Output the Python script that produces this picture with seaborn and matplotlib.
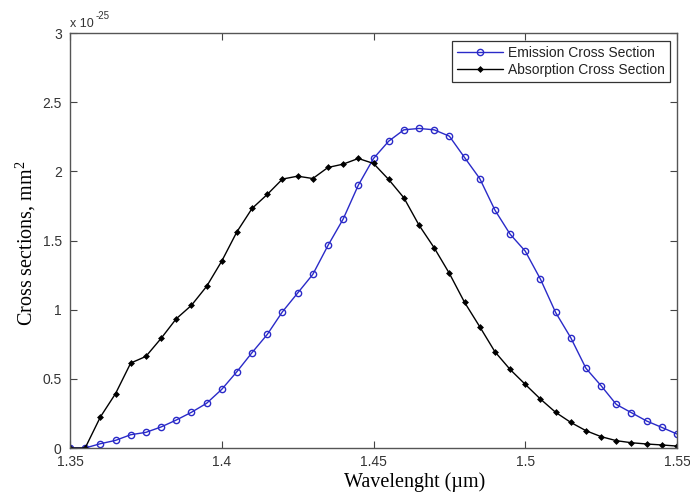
import numpy as np
import pandas as pd
import matplotlib
matplotlib.use("Agg")
import matplotlib.pyplot as plt
import seaborn as sns

wavelength = [1.35 + 0.005 * i for i in range(41)]
emission = [0, 0, 0.031, 0.055, 0.096, 0.113, 0.152, 0.202, 0.258, 0.323,
            0.424, 0.552, 0.69, 0.821, 0.985, 1.12, 1.255, 1.464, 1.655, 1.90,
            2.093, 2.218, 2.30, 2.31, 2.30, 2.254, 2.10, 1.948, 1.72, 1.546,
            1.423, 1.221, 0.980, 0.797, 0.576, 0.450, 0.315, 0.255, 0.195, 0.149,
            0.101]
absorption = [0, 0, 0.224, 0.393, 0.614, 0.662, 0.792, 0.934, 1.031, 1.168,
              1.351, 1.563, 1.732, 1.833, 1.944, 1.965, 1.948, 2.028, 2.052, 2.093,
              2.057, 1.941, 1.809, 1.611, 1.447, 1.262, 1.053, 0.877, 0.696, 0.568,
              0.460, 0.354, 0.258, 0.185, 0.125, 0.082, 0.053, 0.038, 0.029, 0.022,
              0.014]
xticks = [1.35, 1.4, 1.45, 1.5, 1.55]
xtick_labels = ["1.35", "1.4", "1.45", "1.5", "1.55"]
yticks = [0, 0.5, 1, 1.5, 2, 2.5, 3]
ytick_labels = ["0", "0.5", "1", "1.5", "2", "2.5", "3"]

df = pd.DataFrame({"wl": wavelength, "em": emission, "ab": absorption})

sns.set_style("white")
plt.rcParams["font.family"] = ["Liberation Sans", "DejaVu Sans"]
plt.rcParams["mathtext.fontset"] = "custom"
plt.rcParams["mathtext.rm"] = "Liberation Serif"
plt.rcParams["mathtext.default"] = "regular"

fig = plt.figure(figsize=(6.9, 4.94), dpi=100)
W, H = 690, 494
L, R, T, B = 70, 677, 33, 448
ax = fig.add_axes([L / W, 1 - B / H, (R - L) / W, (B - T) / H])

blue = "#2a2ac8"
sns.lineplot(data=df, x="wl", y="em", ax=ax, color=blue, linewidth=1.0,
             marker="o", markersize=4.5, markerfacecolor="none",
             markeredgecolor=blue, markeredgewidth=1.0,
             label="Emission Cross Section")
sns.lineplot(data=df, x="wl", y="ab", ax=ax, color="black", linewidth=1.0,
             marker="D", markersize=3.0, markerfacecolor="black",
             markeredgecolor="black", markeredgewidth=0.5,
             label="Absorption Cross Section")

ax.set_xlim(1.35, 1.55)
ax.set_ylim(0, 3)
ax.set_xticks(xticks)
ax.set_xticklabels(xtick_labels)
ax.set_yticks(yticks)
ax.set_yticklabels(ytick_labels)
ax.tick_params(direction="in", length=5, width=0.8, colors="#444444",
               labelcolor="#333333", labelsize=10, top=True, right=True,
               bottom=True, left=True)
ax.tick_params(axis="x", pad=5)
ax.tick_params(axis="y", pad=6)
for s in ax.spines.values():
    s.set_color("#555555")
    s.set_linewidth(1.0)

ax.set_xlabel("")
ax.set_ylabel("")
fig.text(415 / W, 1 - 482 / H, "Wavelenght (\u00b5m)", family="Liberation Serif",
         fontsize=14.5, color="black", ha="center", va="center")
fig.text(26 / W, 1 - 243 / H, "Cross sections, mm$^{2}$", family="Liberation Serif",
         fontsize=14.5, color="black", ha="center", va="center", rotation=90)

fig.text(70 / W, 1 - 27 / H, "x 10", fontsize=9, color="#333333",
         ha="left", va="baseline")
fig.text(96 / W, 1 - 19 / H, "-25", fontsize=7, color="#333333",
         ha="left", va="baseline")

leg = ax.legend(loc="upper right",
                bbox_to_anchor=((670 - L) / (R - L), (B - 41) / (B - T)),
                borderaxespad=0, frameon=True, fancybox=False,
                edgecolor="black", fontsize=10, handlelength=3.3,
                labelspacing=0.25, borderpad=0.35, handletextpad=0.4)
leg.get_frame().set_linewidth(0.9)
for t in leg.get_texts():
    t.set_color("#222222")

fig.savefig("out.png", dpi=100, facecolor="white")
